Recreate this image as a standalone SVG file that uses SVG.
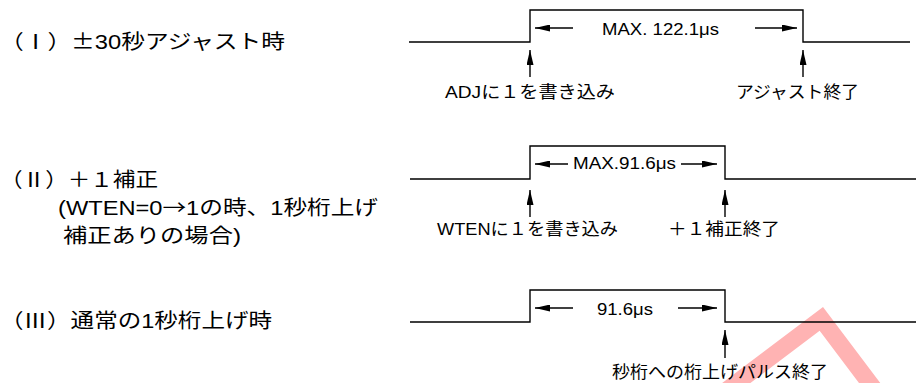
<svg xmlns="http://www.w3.org/2000/svg" width="916" height="383" viewBox="0 0 916 383">
<style>
.t{font-family:"Liberation Sans","Noto Sans CJK JP",sans-serif;fill:#000}
.l{font-size:20px}
.r{font-size:17px}
.cjk{font-family:"Noto Sans CJK JP",sans-serif}
.w{fill:none;stroke:#000;stroke-width:1.4}
.a{stroke:#000;stroke-width:1.4;fill:none}
</style>
<defs>
<marker id="ah" markerUnits="userSpaceOnUse" markerWidth="15" markerHeight="7" refX="15" refY="3.5" orient="auto">
<path d="M0,0 L15,3.5 L0,7 z" fill="#000"/>
</marker>
</defs>
<g id="watermark" transform="translate(823,307) rotate(53)" fill="#ffb3b3" fill-rule="evenodd">
<path d="M0,0 H220 V220 H0 Z M17,17 V203 H203 V17 Z"/>
</g>
<g id="label-1"><text class="t l" x="0" y="48.5" textLength="285" lengthAdjust="spacingAndGlyphs">（Ⅰ）<tspan class="cjk">±</tspan>30秒アジャスト時</text></g>
<g id="label-2">
<text class="t l" x="0" y="187" textLength="158" lengthAdjust="spacingAndGlyphs">（Ⅱ）＋１補正</text>
<text class="t l" x="58" y="215" textLength="320" lengthAdjust="spacingAndGlyphs">(WTEN=0<tspan class="cjk">→</tspan>1の時、1秒桁上げ</text>
<text class="t l" x="63" y="243" textLength="178" lengthAdjust="spacingAndGlyphs">補正ありの場合)</text>
</g>
<g id="label-3"><text class="t l" x="0" y="328" textLength="272" lengthAdjust="spacingAndGlyphs">（Ⅲ）通常の1秒桁上げ時</text></g>
<g id="wave-1">
<polyline class="w" points="409,42 530,42 530,10 803,10 803,42 910,42"/>
<text class="t r" x="602" y="35" textLength="117" lengthAdjust="spacingAndGlyphs">MAX. 122.1μs</text>
</g>
<g id="wave-2">
<polyline class="w" points="410,179 530,179 530,146 725,146 725,179 916,179"/>
<text class="t r" x="573" y="169" textLength="103" lengthAdjust="spacingAndGlyphs">MAX.91.6μs</text>
</g>
<g id="wave-3">
<polyline class="w" points="410,322 530,322 530,290 725,290 725,322 916,322"/>
<text class="t r" x="597" y="315" textLength="56" lengthAdjust="spacingAndGlyphs">91.6μs</text>
</g>
<g id="event-1a"><text class="t r" x="445" y="98" textLength="170" lengthAdjust="spacingAndGlyphs">ADJに１を書き込み</text></g>
<g id="event-1b"><text class="t r" x="736" y="98" textLength="123" lengthAdjust="spacingAndGlyphs">アジャスト終了</text></g>
<g id="event-2a"><text class="t r" x="437" y="235" textLength="181" lengthAdjust="spacingAndGlyphs">WTENに１を書き込み</text></g>
<g id="event-2b"><text class="t r" x="668" y="235" textLength="112" lengthAdjust="spacingAndGlyphs">＋１補正終了</text></g>
<g id="event-3"><text class="t r" x="612" y="378" textLength="216" lengthAdjust="spacingAndGlyphs">秒桁への桁上げパルス終了</text></g>
<g id="connectors">
<line class="a" x1="573" y1="28" x2="535" y2="28" marker-end="url(#ah)"/>
<line class="a" x1="755" y1="28" x2="797" y2="28" marker-end="url(#ah)"/>
<line class="a" x1="530" y1="77" x2="530" y2="50" marker-end="url(#ah)"/>
<line class="a" x1="803" y1="77" x2="803" y2="50" marker-end="url(#ah)"/>
<line class="a" x1="568" y1="164" x2="535" y2="164" marker-end="url(#ah)"/>
<line class="a" x1="681" y1="164" x2="717" y2="164" marker-end="url(#ah)"/>
<line class="a" x1="530" y1="217" x2="530" y2="190" marker-end="url(#ah)"/>
<line class="a" x1="725" y1="217" x2="725" y2="190" marker-end="url(#ah)"/>
<line class="a" x1="573" y1="308" x2="535" y2="308" marker-end="url(#ah)"/>
<line class="a" x1="678" y1="308" x2="717" y2="308" marker-end="url(#ah)"/>
<line class="a" x1="725" y1="358" x2="725" y2="330" marker-end="url(#ah)"/>
</g>
</svg>
